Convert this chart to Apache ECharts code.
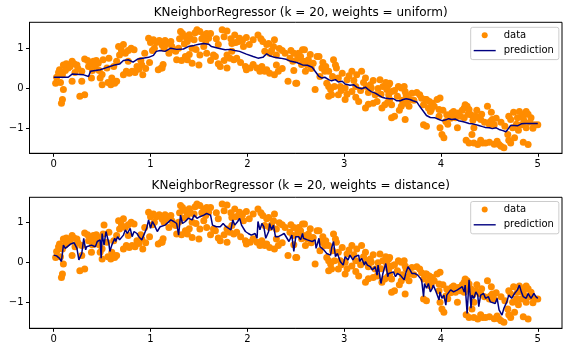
<!DOCTYPE html>
<html>
<head>
<meta charset="utf-8">
<script src="https://cdn.jsdelivr.net/npm/echarts@6/dist/echarts.min.js"></script>
<style>
    html, body { margin: 0; padding: 0; background: #fff; }
    #myChart { width: 568px; height: 352px; }
</style>
</head>
<body>
<div id="myChart"></div>
<script>
    // training samples, same in both panels
    const dataPoints = [
        [0.02,0.13],[0.08,-0.37],[0.09,-0.28],[0.06,0.47],[0.10,-0.03],[0.10,0.59],[0.09,0.34],[0.15,0.51],[0.19,0.68],[0.24,0.59],
        [0.29,0.43],[0.29,0.18],[0.27,-0.20],[0.32,-0.16],[0.32,0.74],[0.38,0.63],[0.41,0.68],[0.46,0.63],[0.48,0.26],[0.50,0.09],
        [0.39,0.26],[0.52,0.94],[0.57,0.76],[0.60,0.26],[0.63,0.13],[0.65,0.18],[0.59,0.09],[0.67,1.05],[0.68,0.84],[0.74,0.88],
        [0.75,0.43],[0.72,0.34],[0.80,1.01],[0.81,0.43],[0.91,0.59],[0.92,0.34],[0.94,0.88],[0.98,1.26],[1.03,1.22],[1.04,1.01],
        [1.08,0.47],[1.11,0.51],[1.15,1.09],[0.19,0.18],[0.55,0.51],[0.51,0.72],[0.62,0.55],[0.77,0.68],[0.86,0.55],[0.65,0.68],
        [0.05,0.40],[0.12,0.45],[0.13,0.62],[0.17,0.55],[0.21,0.62],[0.25,0.50],[0.22,0.40],[0.03,0.28],[0.07,0.15],
        [0.35,0.70],[0.43,0.57],[0.44,0.70],[0.36,0.55],[0.47,0.45],[0.50,0.35],[0.40,0.45],[0.61,0.20],[0.56,0.15],
        [0.70,0.95],[0.77,0.95],[0.83,0.97],[0.72,1.10],[0.78,0.38],[0.84,0.40],[0.88,0.48],[0.95,0.50],[0.90,0.70],
        [1.00,1.15],[1.02,0.95],[1.06,1.15],[1.09,1.20],[0.99,0.65],[1.13,0.60],
        [1.12,1.09],[1.17,1.13],[1.21,1.18],[1.14,1.01],[1.24,0.97],[1.26,0.93],[1.12,0.51],[1.31,1.43],[1.33,1.38],[1.36,1.30],
        [1.38,1.18],[1.41,1.26],[1.45,1.22],[1.48,1.47],[1.51,1.43],[1.55,1.34],[1.58,1.38],[1.60,1.26],[1.57,1.18],[1.27,0.72],
        [1.36,0.80],[1.38,0.72],[1.43,0.63],[1.50,0.59],[1.58,0.88],[1.65,0.84],[1.67,0.80],[1.72,0.55],[1.79,0.51],[1.74,1.47],
        [1.79,1.44],[1.87,1.34],[1.92,1.26],[1.91,1.18],[1.96,1.05],[1.99,1.28],[1.84,1.13],[1.79,0.84],[1.82,0.76],[1.86,0.72],
        [1.89,0.76],[1.84,0.93],[1.98,0.55],[1.99,0.47],[2.03,0.51],[2.10,0.51],[2.13,0.43],[2.18,0.43],[2.20,0.47],[2.11,1.34],
        [2.16,1.18],[2.22,1.13],[2.28,1.22],[2.27,1.05],[2.18,0.93],[2.23,0.88],[2.30,0.84],[2.30,0.59],[2.32,0.43],[2.28,0.34],
        [2.42,0.18],[2.51,0.13],[2.39,0.88],[2.44,0.76],[2.47,0.68],[2.52,0.84],[1.19,0.88],[1.29,1.01],[1.43,1.01],[1.51,0.84],
        [1.15,1.20],[1.22,1.05],[1.30,1.25],[1.35,1.12],[1.40,1.35],[1.46,1.40],[1.53,1.25],[1.62,1.38],[1.55,1.05],[1.47,0.98],
        [1.68,1.25],[1.70,1.10],[1.76,1.30],[1.83,1.25],[1.88,1.15],[1.95,1.20],[2.02,1.10],[2.06,1.22],[2.14,1.25],[2.20,1.10],
        [2.25,0.95],[2.33,1.00],[2.36,0.95],[2.45,0.95],[1.32,0.70],[1.40,0.85],[1.62,0.70],[1.70,0.62],[1.76,0.70],[1.93,0.65],
        [2.06,0.60],[2.15,0.55],[2.23,0.38],[2.36,0.50],[2.48,0.45],
        [2.48,0.88],[2.53,0.88],[2.55,0.80],[2.57,0.97],[2.59,0.97],[2.58,0.68],[2.60,0.43],[2.62,0.59],[2.63,0.72],[2.68,0.63],
        [2.72,0.80],[2.74,0.80],[2.77,0.51],[2.80,0.43],[2.84,0.43],[2.50,0.13],[2.70,-0.03],[2.82,0.13],[2.84,0.05],[2.86,-0.03],
        [2.87,-0.16],[2.84,-0.20],[2.89,0.72],[2.91,0.59],[2.92,0.51],[2.94,0.26],[2.96,0.05],[2.94,-0.16],[3.01,-0.28],[3.03,0.22],
        [3.08,0.43],[3.08,-0.08],[3.13,0.34],[3.15,-0.33],[3.18,0.43],[3.22,0.26],[3.23,0.05],[3.27,0.09],[3.28,0.01],[3.32,-0.16],
        [3.34,-0.33],[3.30,-0.37],[3.22,-0.49],[3.37,0.22],[3.40,0.05],[3.44,-0.03],[3.46,0.09],[3.47,0.13],[3.49,-0.08],[3.46,-0.16],
        [3.47,-0.28],[3.49,-0.41],[3.39,-0.49],[3.42,-0.41],[3.49,-0.74],[3.52,-0.70],[3.56,0.05],[3.59,0.01],[3.63,-0.08],[3.64,-0.16],
        [3.59,-0.45],[3.63,-0.78],[3.64,-0.37],[3.68,-0.28],[3.70,-0.12],[3.78,-0.16],[3.82,-0.41],[3.85,-0.28],[3.88,-0.33],[3.87,-0.49],
        [3.90,-0.53],[3.82,-0.91],[3.85,-0.95],[3.01,0.01],
        [2.52,0.75],[2.56,0.60],[2.65,0.85],[2.66,0.50],[2.78,0.65],[2.81,0.55],[2.75,0.30],[2.88,0.30],[2.90,0.05],[2.98,0.38],
        [3.05,0.32],[3.10,0.20],[3.12,0.05],[3.17,-0.05],[3.20,0.15],[3.25,-0.10],[3.30,0.20],[3.35,0.00],[3.38,-0.15],[3.43,0.15],
        [3.45,-0.35],[3.52,-0.05],[3.55,-0.20],[3.60,-0.30],[3.62,0.05],[3.67,-0.45],[3.72,-0.30],[3.75,-0.10],[3.80,-0.25],[3.57,-0.55],
        [3.25,-0.40],[3.12,-0.22],[2.97,-0.05],[3.03,-0.15],
        [3.84,-0.28],[3.91,-0.37],[3.89,-0.58],[3.96,-0.28],[3.98,-0.53],[3.98,-0.70],[3.99,-0.24],[3.99,-0.99],[4.01,-1.16],[4.03,-1.24],
        [4.05,-0.83],[4.06,-0.66],[4.08,-0.70],[4.11,-0.62],[4.13,-0.58],[4.15,-0.74],[4.17,-0.99],[4.18,-0.62],[4.24,-0.49],[4.25,-0.41],
        [4.27,-0.45],[4.29,-0.53],[4.31,-0.66],[4.32,-1.16],[4.34,-0.99],[4.29,-1.37],[4.34,-1.37],[4.38,-1.41],[4.39,-0.74],[4.41,-0.78],
        [4.43,-1.37],[4.46,-1.37],[4.48,-0.45],[4.50,-0.91],[4.51,-0.83],[4.53,-0.78],[4.55,-0.91],[4.58,-1.33],[4.60,-1.41],[4.62,-1.45],
        [4.65,-1.49],[4.69,-1.16],[4.70,-0.70],[4.72,-0.78],[4.72,-1.37],[4.76,-1.24],[4.79,-0.74],[4.81,-0.58],[4.84,-0.66],[4.86,-0.83],
        [4.88,-0.99],[4.90,-1.41],[4.88,-0.58],[4.93,-0.74],[4.97,-0.91],[5.00,-0.91],[4.24,-0.74],[4.36,-0.70],[4.74,-0.99],[4.83,-0.91],
        [3.93,-0.45],[4.02,-0.55],[4.07,-0.90],[4.10,-0.75],[4.20,-0.70],[4.22,-0.55],[4.28,-0.65],[4.33,-0.80],[4.37,-0.55],[4.42,-0.65],
        [4.45,-0.85],[4.52,-0.60],[4.57,-0.75],[4.62,-0.85],[4.66,-0.95],[4.75,-0.60],[4.78,-0.90],[4.80,-1.05],[4.85,-0.75],[4.90,-0.65],
        [4.92,-0.85],[4.95,-1.00],[4.70,-1.30],[4.55,-1.40],[4.50,-1.35],[4.41,-1.30],[4.26,-1.30],[4.85,-1.35]
    ]

    // prediction, weights = uniform
    const uniformLine = [
        [0,0.28],[0.15,0.28],[0.19,0.36],[0.31,0.34],[0.36,0.30],[0.38,0.43],[0.48,0.47],[0.53,0.51],[0.58,0.55],[0.63,0.59],
        [0.68,0.61],[0.72,0.70],[0.77,0.72],[0.82,0.66],[0.87,0.74],[0.92,0.76],[0.98,0.78],[1.03,0.83],[1.06,0.93],[1.10,0.95],
        [1.15,0.93],[1.17,0.91],[1.21,1.01],[1.27,0.98],[1.34,0.99],[1.39,1.05],[1.45,1.08],[1.50,1.11],[1.55,1.13],[1.60,1.11],
        [1.63,1.05],[1.70,1.01],[1.77,0.97],[1.82,0.98],[1.87,0.95],[1.92,0.93],[1.99,0.86],[2.06,0.80],[2.11,0.76],[2.16,0.78],
        [2.20,0.87],[2.23,0.82],[2.28,0.78],[2.34,0.76],[2.40,0.73],[2.45,0.68],[2.51,0.65],[2.57,0.59],[2.62,0.58],[2.67,0.53],
        [2.70,0.43],[2.74,0.30],[2.77,0.26],[2.80,0.28],[2.84,0.22],[2.87,0.19],[2.91,0.22],[2.94,0.16],[2.98,0.18],[3.01,0.11],
        [3.06,0.08],[3.10,0.09],[3.13,0.03],[3.18,-0.01],[3.22,0.03],[3.25,-0.03],[3.28,-0.08],[3.32,-0.12],[3.35,-0.16],[3.39,-0.22],
        [3.42,-0.24],[3.47,-0.26],[3.51,-0.26],[3.54,-0.31],[3.58,-0.31],[3.61,-0.28],[3.64,-0.26],[3.68,-0.28],[3.71,-0.31],[3.75,-0.34],
        [3.78,-0.45],[3.82,-0.58],[3.85,-0.68],[3.89,-0.73],[3.94,-0.74],[3.98,-0.78],[4.01,-0.81],[4.05,-0.79],[4.08,-0.76],[4.11,-0.78],
        [4.15,-0.77],[4.18,-0.81],[4.22,-0.83],[4.25,-0.85],[4.29,-0.88],[4.32,-0.89],[4.36,-0.91],[4.39,-0.93],[4.43,-0.96],[4.46,-0.98],
        [4.50,-0.99],[4.53,-1.01],[4.57,-0.99],[4.60,-1.03],[4.64,-1.06],[4.67,-1.09],[4.69,-1.03],[4.72,-0.93],[4.76,-0.93],[4.79,-0.94],
        [4.83,-0.89],[4.86,-0.88],[4.93,-0.88],[5.00,-0.88]
    ]

    // prediction, weights = distance
    const distanceLine = [
        [0,0.19],[0.03,0.17],[0.06,0.11],[0.08,0.03],[0.09,0.07],[0.10,0.44],[0.12,0.36],[0.14,0.40],[0.17,0.46],[0.21,0.50],
        [0.24,0.36],[0.26,0.07],[0.27,0.03],[0.29,0.23],[0.31,0.61],[0.33,0.32],[0.34,0.40],[0.36,0.36],[0.39,0.44],[0.43,0.40],
        [0.45,0.53],[0.46,0.48],[0.48,0.57],[0.49,0.11],[0.50,0.73],[0.52,0.44],[0.54,0.78],[0.57,0.48],[0.58,0.28],[0.60,0.44],
        [0.63,0.61],[0.64,0.53],[0.66,0.65],[0.68,0.57],[0.72,0.69],[0.74,0.82],[0.76,0.73],[0.79,0.86],[0.81,0.65],[0.83,0.78],
        [0.86,0.73],[0.88,0.65],[0.91,0.57],[0.93,0.53],[0.96,0.86],[0.98,1.07],[1.00,0.86],[1.02,1.03],[1.04,0.94],[1.07,0.78],
        [1.10,0.90],[1.12,0.86],[1.15,0.94],[1.17,0.98],[1.21,1.07],[1.24,1.03],[1.27,0.98],[1.29,0.69],[1.31,1.19],[1.33,0.98],
        [1.36,1.03],[1.39,1.11],[1.43,1.07],[1.45,1.19],[1.48,1.11],[1.51,1.15],[1.55,1.19],[1.58,1.23],[1.60,1.28],[1.62,1.19],
        [1.64,0.94],[1.68,0.90],[1.72,0.90],[1.74,0.86],[1.75,0.98],[1.78,0.90],[1.80,0.90],[1.83,0.82],[1.85,1.07],[1.87,0.94],
        [1.90,1.03],[1.92,1.11],[1.94,0.94],[1.98,0.78],[2.01,0.73],[2.04,0.69],[2.08,0.73],[2.10,0.61],[2.11,1.03],[2.13,0.82],
        [2.15,0.98],[2.17,0.90],[2.19,0.61],[2.22,0.78],[2.23,0.98],[2.25,0.82],[2.27,0.94],[2.29,0.65],[2.32,0.65],[2.35,0.69],
        [2.38,0.73],[2.40,0.73],[2.43,0.53],[2.46,0.69],[2.48,0.28],[2.50,0.65],[2.51,0.69],[2.53,0.65],[2.55,0.57],[2.57,0.73],
        [2.58,0.61],[2.60,0.65],[2.62,0.57],[2.64,0.61],[2.67,0.53],[2.70,0.57],[2.71,0.36],[2.74,0.61],[2.75,0.40],[2.79,0.32],
        [2.82,0.23],[2.86,0.19],[2.87,0.36],[2.89,0.53],[2.91,0.15],[2.93,0.23],[2.96,0.03],[2.98,0.07],[2.99,-0.06],[3.01,0.15],
        [3.04,0.07],[3.06,0.19],[3.09,0.07],[3.11,0.15],[3.13,0.11],[3.15,0.19],[3.16,0.03],[3.18,0.11],[3.21,-0.06],[3.22,0.03],
        [3.24,-0.06],[3.27,-0.10],[3.29,-0.18],[3.32,-0.10],[3.34,-0.31],[3.35,-0.06],[3.38,-0.52],[3.40,-0.27],[3.43,-0.02],[3.45,-0.35],
        [3.46,-0.27],[3.48,-0.31],[3.51,-0.23],[3.53,-0.35],[3.55,-0.27],[3.58,-0.31],[3.60,-0.35],[3.62,-0.43],[3.64,-0.23],[3.66,-0.10],
        [3.68,-0.18],[3.70,-0.27],[3.73,-0.27],[3.76,-0.31],[3.78,-0.31],[3.80,-0.43],[3.82,-0.85],[3.83,-0.52],[3.85,-0.64],[3.87,-0.52],
        [3.89,-0.73],[3.91,-0.64],[3.92,-0.56],[3.95,-0.73],[3.98,-0.93],[3.99,-0.73],[4.01,-0.89],[4.03,-0.81],[4.05,-1.06],[4.06,-0.81],
        [4.08,-0.77],[4.10,-0.68],[4.13,-0.73],[4.17,-0.68],[4.19,-0.67],[4.22,-0.60],[4.24,-0.73],[4.25,-0.56],[4.27,-1.27],[4.29,-0.43],
        [4.31,-1.14],[4.32,-0.81],[4.34,-0.89],[4.36,-0.73],[4.38,-0.81],[4.39,-1.10],[4.41,-0.81],[4.44,-0.77],[4.46,-0.89],[4.49,-0.85],
        [4.51,-0.98],[4.53,-0.98],[4.56,-1.02],[4.58,-0.89],[4.60,-1.18],[4.63,-1.31],[4.65,-1.14],[4.68,-0.98],[4.70,-0.81],[4.73,-0.89],
        [4.76,-0.77],[4.77,-0.81],[4.79,-0.68],[4.81,-0.56],[4.83,-0.73],[4.85,-0.85],[4.88,-0.89],[4.90,-0.77],[4.93,-0.89],[4.96,-0.77],
        [4.98,-0.85],[5.00,-0.89]
    ]

    const titles = ['KNeighborRegressor (k = 20, weights = uniform)', 'KNeighborRegressor (k = 20, weights = distance)']
    const xTicks = [0, 1, 2, 3, 4, 5]
    const yTicks = [-1, 0, 1]

    const font = 'DejaVu Sans'
    const minus = v => (v < 0 ? '\u2212' + Math.abs(v) : String(v))
    // thin horizontal stroke; the two empty moves keep the 22x6 box so it is not stretched
    const lineIcon = 'path://M0,0L0,0M0,2.3H22V3.7H0ZM0,6L0,6'

    const grids = [
        {left: 29.5, top: 22.3, width: 532.5, height: 131},
        {left: 29.5, top: 197.3, width: 532.5, height: 131}
    ]
    const yRange = [[-1.63, 1.66], [-1.64, 1.635]]
    const legendTop = [27.3, 201.5]

    function xAxis(i) {
        return {
            type: 'value', gridIndex: i, min: -0.25, max: 5.25,
            splitLine: {show: false},
            axisLine: {show: true, onZero: false, lineStyle: {color: '#000', width: 1}},
            axisTick: {show: true, length: 3.5, customValues: xTicks, lineStyle: {color: '#000'}},
            axisLabel: {customValues: xTicks, margin: 6, fontSize: 10, fontFamily: font, color: '#000', formatter: minus}
        }
    }
    function yAxis(i) {
        return {
            type: 'value', gridIndex: i, min: yRange[i][0], max: yRange[i][1],
            splitLine: {show: false},
            axisLine: {show: true, onZero: false, lineStyle: {color: '#000', width: 1}},
            axisTick: {show: true, length: 3.5, customValues: yTicks, lineStyle: {color: '#000'}},
            axisLabel: {customValues: yTicks, margin: 6, fontSize: 10, fontFamily: font, color: '#000', formatter: minus}
        }
    }
    function legend(i) {
        return {
            orient: 'vertical', left: 470.7, top: legendTop[i],
            padding: [2, 5, 3, 3], itemGap: 3.3,
            itemWidth: 22, itemHeight: 6,
            backgroundColor: 'rgba(255,255,255,0.8)', borderColor: '#cccccc', borderWidth: 1, borderRadius: 2,
            selectedMode: false,
            textStyle: {fontSize: 10, fontFamily: font, color: '#000', lineHeight: 12, padding: [0, 0, 0, 3]},
            data: [
                {name: 'data', icon: 'circle'},
                {name: 'prediction', icon: lineIcon, itemStyle: {color: '#000080', borderWidth: 0}}
            ]
        }
    }

    let option = {
        animation: false,
        backgroundColor: '#fff',
        title: titles.map((t, i) => ({
            text: t, left: 295.7, top: i === 0 ? 2.3 : 174.7, textAlign: 'center',
            textStyle: {fontSize: 12, fontWeight: 'normal', fontFamily: font, color: '#000'}
        })),
        legend: [legend(0), legend(1)],
        grid: grids.map(g => Object.assign({show: true, borderColor: '#000', borderWidth: 1}, g)),
        xAxis: [xAxis(0), xAxis(1)],
        yAxis: [yAxis(0), yAxis(1)],
        series: [
            {name: 'data', type: 'scatter', xAxisIndex: 0, yAxisIndex: 0, symbolSize: 7,
                itemStyle: {color: '#ff8c00', opacity: 1}, data: dataPoints},
            {name: 'prediction', type: 'line', xAxisIndex: 0, yAxisIndex: 0, symbol: 'none',
                lineStyle: {color: '#000080', width: 1.5}, itemStyle: {color: '#000080'}, data: uniformLine},
            {name: 'data', type: 'scatter', xAxisIndex: 1, yAxisIndex: 1, symbolSize: 7,
                itemStyle: {color: '#ff8c00', opacity: 1}, data: dataPoints},
            {name: 'prediction', type: 'line', xAxisIndex: 1, yAxisIndex: 1, symbol: 'none',
                lineStyle: {color: '#000080', width: 1.5}, itemStyle: {color: '#000080'}, data: distanceLine}
        ]
    }

    let myChart = echarts.init(document.getElementById('myChart'))
    myChart.setOption(option)
</script>
</body>
</html>
